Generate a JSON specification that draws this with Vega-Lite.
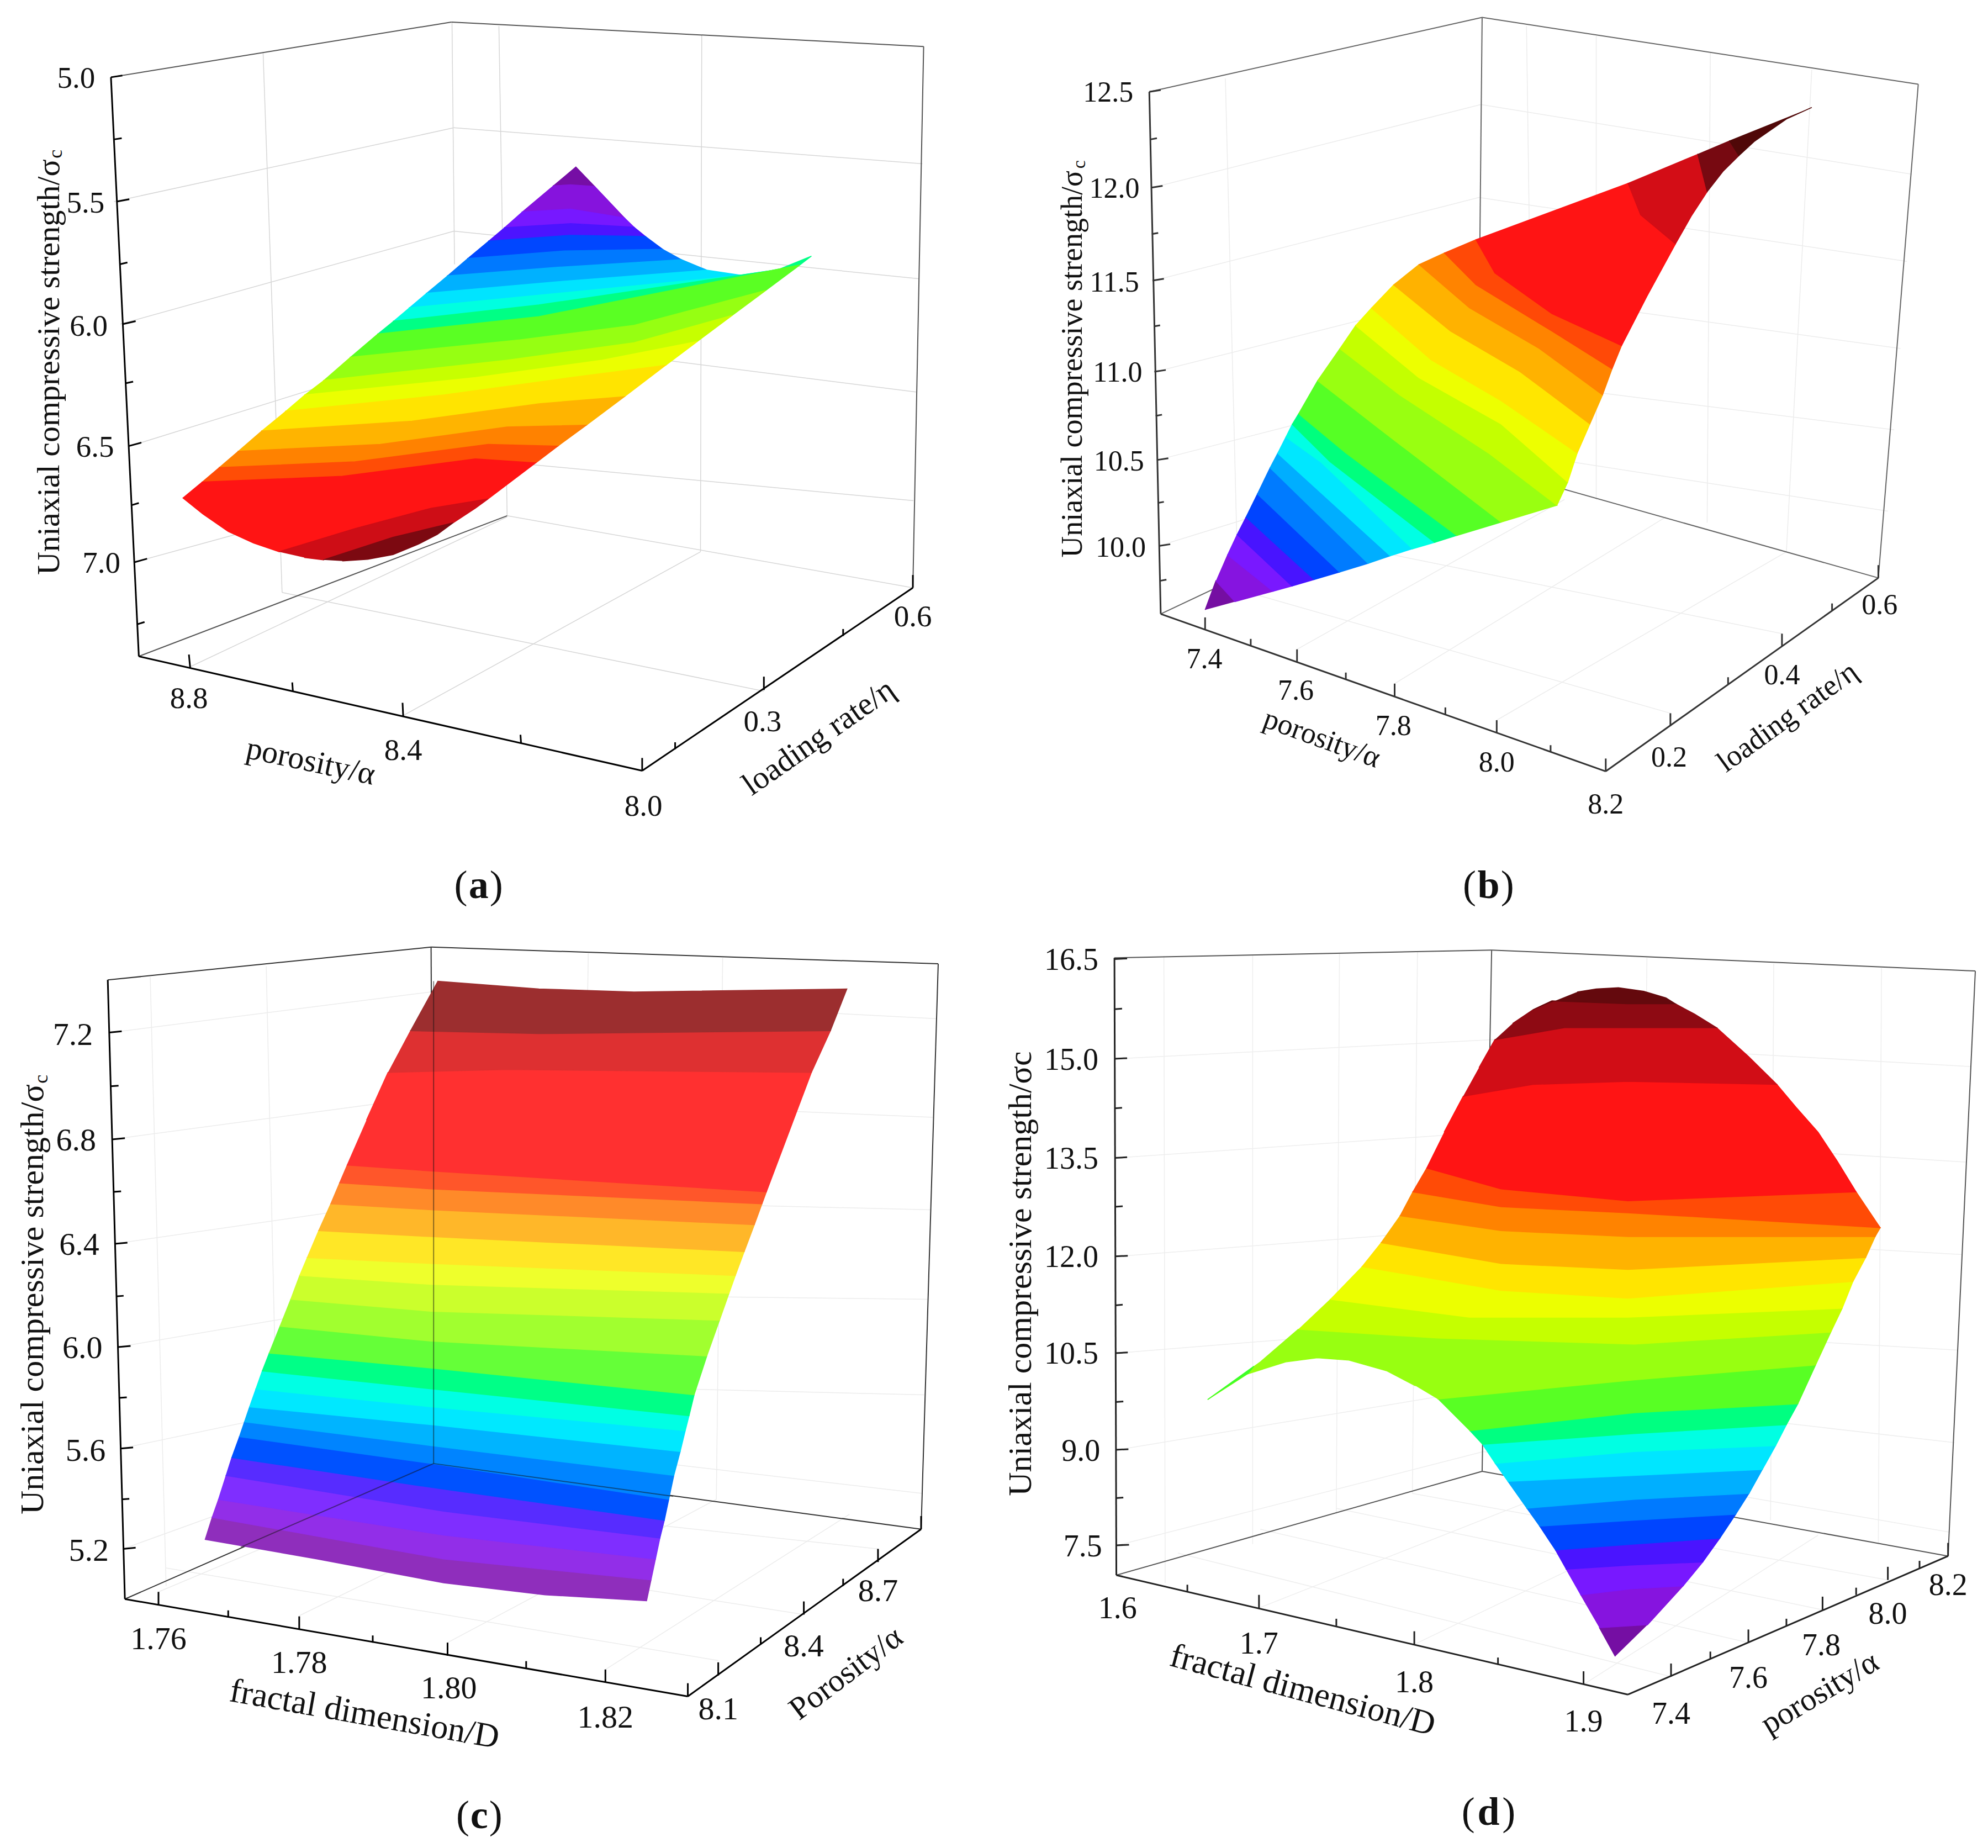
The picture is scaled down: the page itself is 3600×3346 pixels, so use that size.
{"$schema":"https://vega.github.io/schema/vega-lite/v6.json","padding":0,"spacing":0,"background":"white",
"config":{"view":{"stroke":null},"concat":{"spacing":0},"text":{"font":"Liberation Serif","align":"center","baseline":"middle","color":"#111"}},
"resolve":{"scale":{"fill":"independent","stroke":"independent"}},
"datasets":{
"surfA":[
{"z":5.44,"u":908,"v":287},{"z":5.44,"u":938,"v":321},{"z":5.44,"u":900,"v":318},{"z":5.44,"u":872,"v":320},
{"z":5.51,"u":872,"v":320},{"z":5.51,"u":900,"v":318},{"z":5.51,"u":938,"v":321},{"z":5.51,"u":985,"v":375},{"z":5.51,"u":900,"v":360},{"z":5.51,"u":823,"v":365},
{"z":5.59,"u":823,"v":365},{"z":5.59,"u":900,"v":360},{"z":5.59,"u":985,"v":375},{"z":5.59,"u":1000,"v":391},{"z":5.59,"u":900,"v":385},{"z":5.59,"u":795,"v":392},
{"z":5.66,"u":795,"v":392},{"z":5.66,"u":900,"v":385},{"z":5.66,"u":1000,"v":391},{"z":5.66,"u":1018,"v":407},{"z":5.66,"u":900,"v":405},{"z":5.66,"u":770,"v":415},
{"z":5.74,"u":770,"v":415},{"z":5.74,"u":900,"v":405},{"z":5.74,"u":1018,"v":407},{"z":5.74,"u":1045,"v":429},{"z":5.74,"u":890,"v":432},{"z":5.74,"u":737,"v":445},
{"z":5.81,"u":737,"v":445},{"z":5.81,"u":890,"v":432},{"z":5.81,"u":1045,"v":429},{"z":5.81,"u":1075,"v":447},{"z":5.81,"u":880,"v":460},{"z":5.81,"u":705,"v":475},
{"z":5.89,"u":705,"v":475},{"z":5.89,"u":880,"v":460},{"z":5.89,"u":1075,"v":447},{"z":5.89,"u":1115,"v":465},{"z":5.89,"u":880,"v":485},{"z":5.89,"u":672,"v":505},
{"z":5.96,"u":672,"v":505},{"z":5.96,"u":880,"v":485},{"z":5.96,"u":1115,"v":465},{"z":5.96,"u":1170,"v":474},{"z":5.96,"u":880,"v":505},{"z":5.96,"u":645,"v":530},
{"z":6.04,"u":645,"v":530},{"z":6.04,"u":880,"v":505},{"z":6.04,"u":1170,"v":474},{"z":6.04,"u":1228,"v":464},{"z":6.04,"u":850,"v":525},{"z":6.04,"u":620,"v":553},
{"z":6.11,"u":620,"v":553},{"z":6.11,"u":850,"v":525},{"z":6.11,"u":1228,"v":464},{"z":6.11,"u":1280,"v":441},{"z":6.11,"u":1262,"v":456},{"z":6.11,"u":850,"v":545},{"z":6.11,"u":595,"v":575},
{"z":6.19,"u":595,"v":575},{"z":6.19,"u":850,"v":545},{"z":6.19,"u":1262,"v":456},{"z":6.19,"u":1208,"v":500},{"z":6.19,"u":1000,"v":560},{"z":6.19,"u":820,"v":585},{"z":6.19,"u":552,"v":615},
{"z":6.26,"u":552,"v":615},{"z":6.26,"u":820,"v":585},{"z":6.26,"u":1000,"v":560},{"z":6.26,"u":1208,"v":500},{"z":6.26,"u":1155,"v":543},{"z":6.26,"u":1000,"v":590},{"z":6.26,"u":800,"v":620},{"z":6.26,"u":510,"v":655},
{"z":6.34,"u":510,"v":655},{"z":6.34,"u":800,"v":620},{"z":6.34,"u":1000,"v":590},{"z":6.34,"u":1155,"v":543},{"z":6.34,"u":1100,"v":588},{"z":6.34,"u":950,"v":620},{"z":6.34,"u":750,"v":650},{"z":6.34,"u":480,"v":680},
{"z":6.41,"u":480,"v":680},{"z":6.41,"u":750,"v":650},{"z":6.41,"u":950,"v":620},{"z":6.41,"u":1100,"v":588},{"z":6.41,"u":1050,"v":629},{"z":6.41,"u":900,"v":650},{"z":6.41,"u":700,"v":680},{"z":6.41,"u":450,"v":708},
{"z":6.49,"u":450,"v":708},{"z":6.49,"u":700,"v":680},{"z":6.49,"u":900,"v":650},{"z":6.49,"u":1050,"v":629},{"z":6.49,"u":985,"v":683},{"z":6.49,"u":850,"v":695},{"z":6.49,"u":650,"v":725},{"z":6.49,"u":412,"v":742},
{"z":6.56,"u":412,"v":742},{"z":6.56,"u":650,"v":725},{"z":6.56,"u":850,"v":695},{"z":6.56,"u":985,"v":683},{"z":6.56,"u":925,"v":732},{"z":6.56,"u":800,"v":735},{"z":6.56,"u":600,"v":765},{"z":6.56,"u":375,"v":777},
{"z":6.64,"u":375,"v":777},{"z":6.64,"u":600,"v":765},{"z":6.64,"u":800,"v":735},{"z":6.64,"u":925,"v":732},{"z":6.64,"u":880,"v":768},{"z":6.64,"u":770,"v":765},{"z":6.64,"u":560,"v":795},{"z":6.64,"u":345,"v":805},
{"z":6.71,"u":345,"v":805},{"z":6.71,"u":560,"v":795},{"z":6.71,"u":770,"v":765},{"z":6.71,"u":880,"v":768},{"z":6.71,"u":845,"v":797},{"z":6.71,"u":750,"v":790},{"z":6.71,"u":540,"v":820},{"z":6.71,"u":318,"v":830},
{"z":6.83,"u":318,"v":830},{"z":6.83,"u":540,"v":820},{"z":6.83,"u":750,"v":790},{"z":6.83,"u":845,"v":797},{"z":6.83,"u":770,"v":859},{"z":6.83,"u":680,"v":875},{"z":6.83,"u":560,"v":910},{"z":6.83,"u":440,"v":950},{"z":6.83,"u":400,"v":935},{"z":6.83,"u":360,"v":915},{"z":6.83,"u":320,"v":885},{"z":6.83,"u":288,"v":857},
{"z":6.94,"u":440,"v":950},{"z":6.94,"u":560,"v":910},{"z":6.94,"u":680,"v":875},{"z":6.94,"u":770,"v":859},{"z":6.94,"u":750,"v":875},{"z":6.94,"u":715,"v":900},{"z":6.94,"u":620,"v":925},{"z":6.94,"u":510,"v":964},{"z":6.94,"u":480,"v":960},
{"z":7.01,"u":510,"v":964},{"z":7.01,"u":620,"v":925},{"z":7.01,"u":715,"v":900},{"z":7.01,"u":690,"v":920},{"z":7.01,"u":660,"v":937},{"z":7.01,"u":620,"v":955},{"z":7.01,"u":580,"v":963},{"z":7.01,"u":540,"v":966}
],
"surfB":[
{"z":9.76,"u":333,"v":1050},{"z":9.76,"u":350,"v":1000},{"z":9.76,"u":380,"v":1036},
{"z":9.89,"u":350,"v":1000},{"z":9.89,"u":380,"v":1036},{"z":9.89,"u":440,"v":1018},{"z":9.89,"u":368,"v":955},
{"z":10.01,"u":368,"v":955},{"z":10.01,"u":440,"v":1018},{"z":10.01,"u":470,"v":1009},{"z":10.01,"u":383,"v":920},
{"z":10.14,"u":383,"v":920},{"z":10.14,"u":470,"v":1009},{"z":10.14,"u":505,"v":998},{"z":10.14,"u":397,"v":890},
{"z":10.26,"u":397,"v":890},{"z":10.26,"u":505,"v":998},{"z":10.26,"u":545,"v":985},{"z":10.26,"u":415,"v":850},
{"z":10.39,"u":415,"v":850},{"z":10.39,"u":545,"v":985},{"z":10.39,"u":590,"v":970},{"z":10.39,"u":435,"v":805},
{"z":10.51,"u":435,"v":805},{"z":10.51,"u":590,"v":970},{"z":10.51,"u":625,"v":957},{"z":10.51,"u":447,"v":780},
{"z":10.64,"u":447,"v":780},{"z":10.64,"u":625,"v":957},{"z":10.64,"u":660,"v":945},{"z":10.64,"u":515,"v":795},{"z":10.64,"u":460,"v":752},
{"z":10.76,"u":460,"v":752},{"z":10.76,"u":515,"v":795},{"z":10.76,"u":660,"v":945},{"z":10.76,"u":695,"v":934},{"z":10.76,"u":530,"v":795},{"z":10.76,"u":470,"v":730},
{"z":10.89,"u":470,"v":730},{"z":10.89,"u":530,"v":795},{"z":10.89,"u":695,"v":934},{"z":10.89,"u":730,"v":922},{"z":10.89,"u":555,"v":780},{"z":10.89,"u":480,"v":712},
{"z":11.01,"u":480,"v":712},{"z":11.01,"u":555,"v":780},{"z":11.01,"u":730,"v":922},{"z":11.01,"u":800,"v":899},{"z":11.01,"u":610,"v":740},{"z":11.01,"u":510,"v":655},
{"z":11.14,"u":510,"v":655},{"z":11.14,"u":610,"v":740},{"z":11.14,"u":800,"v":899},{"z":11.14,"u":888,"v":870},{"z":11.14,"u":780,"v":780},{"z":11.14,"u":640,"v":680},{"z":11.14,"u":545,"v":600},
{"z":11.26,"u":545,"v":600},{"z":11.26,"u":640,"v":680},{"z":11.26,"u":780,"v":780},{"z":11.26,"u":888,"v":870},{"z":11.26,"u":905,"v":830},{"z":11.26,"u":800,"v":730},{"z":11.26,"u":670,"v":650},{"z":11.26,"u":570,"v":560},
{"z":11.39,"u":570,"v":560},{"z":11.39,"u":670,"v":650},{"z":11.39,"u":800,"v":730},{"z":11.39,"u":905,"v":830},{"z":11.39,"u":920,"v":780},{"z":11.39,"u":800,"v":690},{"z":11.39,"u":690,"v":620},{"z":11.39,"u":595,"v":530},
{"z":11.51,"u":595,"v":530},{"z":11.51,"u":690,"v":620},{"z":11.51,"u":800,"v":690},{"z":11.51,"u":920,"v":780},{"z":11.51,"u":940,"v":730},{"z":11.51,"u":830,"v":640},{"z":11.51,"u":720,"v":570},{"z":11.51,"u":630,"v":490},
{"z":11.64,"u":630,"v":490},{"z":11.64,"u":720,"v":570},{"z":11.64,"u":830,"v":640},{"z":11.64,"u":940,"v":730},{"z":11.64,"u":960,"v":680},{"z":11.64,"u":860,"v":600},{"z":11.64,"u":750,"v":530},{"z":11.64,"u":670,"v":455},
{"z":11.76,"u":670,"v":455},{"z":11.76,"u":750,"v":530},{"z":11.76,"u":860,"v":600},{"z":11.76,"u":960,"v":680},{"z":11.76,"u":975,"v":635},{"z":11.76,"u":880,"v":570},{"z":11.76,"u":760,"v":490},{"z":11.76,"u":710,"v":435},
{"z":11.89,"u":710,"v":435},{"z":11.89,"u":760,"v":490},{"z":11.89,"u":880,"v":570},{"z":11.89,"u":975,"v":635},{"z":11.89,"u":990,"v":595},{"z":11.89,"u":880,"v":540},{"z":11.89,"u":790,"v":470},{"z":11.89,"u":760,"v":412},
{"z":12.08,"u":760,"v":412},{"z":12.08,"u":790,"v":470},{"z":12.08,"u":880,"v":540},{"z":12.08,"u":990,"v":595},{"z":12.08,"u":1030,"v":510},{"z":12.08,"u":1075,"v":420},{"z":12.08,"u":1020,"v":370},{"z":12.08,"u":1000,"v":315},
{"z":12.26,"u":1000,"v":315},{"z":12.26,"u":1020,"v":370},{"z":12.26,"u":1075,"v":420},{"z":12.26,"u":1100,"v":372},{"z":12.26,"u":1125,"v":330},{"z":12.26,"u":1110,"v":265},
{"z":12.39,"u":1110,"v":265},{"z":12.39,"u":1125,"v":330},{"z":12.39,"u":1150,"v":295},{"z":12.39,"u":1175,"v":268},{"z":12.39,"u":1160,"v":242},
{"z":12.45,"u":1160,"v":242},{"z":12.45,"u":1175,"v":268},{"z":12.45,"u":1200,"v":243},{"z":12.45,"u":1250,"v":205},{"z":12.45,"u":1290,"v":185}
],
"surfC":[
{"z":5.15,"u":323,"v":1052},{"z":5.15,"u":500,"v":1085},{"z":5.15,"u":700,"v":1125},{"z":5.15,"u":860,"v":1145},{"z":5.15,"u":1020,"v":1155},{"z":5.15,"u":1027,"v":1120},{"z":5.15,"u":700,"v":1085},{"z":5.15,"u":334,"v":1015},
{"z":5.25,"u":334,"v":1015},{"z":5.25,"u":700,"v":1085},{"z":5.25,"u":1027,"v":1120},{"z":5.25,"u":1034,"v":1085},{"z":5.25,"u":700,"v":1045},{"z":5.25,"u":344,"v":985},
{"z":5.35,"u":344,"v":985},{"z":5.35,"u":700,"v":1045},{"z":5.35,"u":1034,"v":1085},{"z":5.35,"u":1041,"v":1050},{"z":5.35,"u":700,"v":1005},{"z":5.35,"u":356,"v":945},
{"z":5.45,"u":356,"v":945},{"z":5.45,"u":700,"v":1005},{"z":5.45,"u":1041,"v":1050},{"z":5.45,"u":1048,"v":1020},{"z":5.45,"u":680,"v":965},{"z":5.45,"u":365,"v":915},
{"z":5.55,"u":365,"v":915},{"z":5.55,"u":680,"v":965},{"z":5.55,"u":1048,"v":1020},{"z":5.55,"u":1055,"v":985},{"z":5.55,"u":680,"v":925},{"z":5.55,"u":377,"v":880},
{"z":5.65,"u":377,"v":880},{"z":5.65,"u":680,"v":925},{"z":5.65,"u":1055,"v":985},{"z":5.65,"u":1063,"v":945},{"z":5.65,"u":680,"v":895},{"z":5.65,"u":385,"v":855},
{"z":5.75,"u":385,"v":855},{"z":5.75,"u":680,"v":895},{"z":5.75,"u":1063,"v":945},{"z":5.75,"u":1073,"v":905},{"z":5.75,"u":680,"v":860},{"z":5.75,"u":393,"v":830},
{"z":5.85,"u":393,"v":830},{"z":5.85,"u":680,"v":860},{"z":5.85,"u":1073,"v":905},{"z":5.85,"u":1081,"v":870},{"z":5.85,"u":680,"v":830},{"z":5.85,"u":403,"v":800},
{"z":5.95,"u":403,"v":800},{"z":5.95,"u":680,"v":830},{"z":5.95,"u":1081,"v":870},{"z":5.95,"u":1087,"v":845},{"z":5.95,"u":680,"v":800},{"z":5.95,"u":413,"v":770},
{"z":6.05,"u":413,"v":770},{"z":6.05,"u":680,"v":800},{"z":6.05,"u":1087,"v":845},{"z":6.05,"u":1095,"v":810},{"z":6.05,"u":680,"v":765},{"z":6.05,"u":424,"v":740},
{"z":6.15,"u":424,"v":740},{"z":6.15,"u":680,"v":765},{"z":6.15,"u":1095,"v":810},{"z":6.15,"u":1115,"v":745},{"z":6.15,"u":680,"v":720},{"z":6.15,"u":441,"v":695},
{"z":6.25,"u":441,"v":695},{"z":6.25,"u":680,"v":720},{"z":6.25,"u":1115,"v":745},{"z":6.25,"u":1135,"v":685},{"z":6.25,"u":680,"v":670},{"z":6.25,"u":458,"v":650},
{"z":6.35,"u":458,"v":650},{"z":6.35,"u":680,"v":670},{"z":6.35,"u":1135,"v":685},{"z":6.35,"u":1150,"v":640},{"z":6.35,"u":680,"v":625},{"z":6.35,"u":472,"v":610},
{"z":6.45,"u":472,"v":610},{"z":6.45,"u":680,"v":625},{"z":6.45,"u":1150,"v":640},{"z":6.45,"u":1160,"v":610},{"z":6.45,"u":680,"v":590},{"z":6.45,"u":484,"v":580},
{"z":6.55,"u":484,"v":580},{"z":6.55,"u":680,"v":590},{"z":6.55,"u":1160,"v":610},{"z":6.55,"u":1174,"v":570},{"z":6.55,"u":680,"v":545},{"z":6.55,"u":502,"v":535},
{"z":6.65,"u":502,"v":535},{"z":6.65,"u":680,"v":545},{"z":6.65,"u":1174,"v":570},{"z":6.65,"u":1190,"v":525},{"z":6.65,"u":680,"v":500},{"z":6.65,"u":521,"v":490},
{"z":6.75,"u":521,"v":490},{"z":6.75,"u":680,"v":500},{"z":6.75,"u":1190,"v":525},{"z":6.75,"u":1202,"v":490},{"z":6.75,"u":680,"v":465},{"z":6.75,"u":535,"v":455},
{"z":6.85,"u":535,"v":455},{"z":6.85,"u":680,"v":465},{"z":6.85,"u":1202,"v":490},{"z":6.85,"u":1209,"v":470},{"z":6.85,"u":680,"v":435},{"z":6.85,"u":547,"v":425},
{"z":7.0,"u":547,"v":425},{"z":7.0,"u":680,"v":435},{"z":7.0,"u":1209,"v":470},{"z":7.0,"u":1248,"v":360},{"z":7.0,"u":1280,"v":270},{"z":7.0,"u":800,"v":265},{"z":7.0,"u":612,"v":270},{"z":7.0,"u":578,"v":350},
{"z":7.15,"u":612,"v":270},{"z":7.15,"u":800,"v":265},{"z":7.15,"u":1280,"v":270},{"z":7.15,"u":1310,"v":200},{"z":7.15,"u":850,"v":205},{"z":7.15,"u":647,"v":200},
{"z":7.25,"u":647,"v":200},{"z":7.25,"u":850,"v":205},{"z":7.25,"u":1310,"v":200},{"z":7.25,"u":1336,"v":130},{"z":7.25,"u":1000,"v":135},{"z":7.25,"u":850,"v":130},{"z":7.25,"u":690,"v":117}
],
"surfD":[
{"z":7.4,"u":980,"v":1248},{"z":7.4,"u":955,"v":1200},{"z":7.4,"u":1031,"v":1195},
{"z":7.8,"u":955,"v":1200},{"z":7.8,"u":1031,"v":1195},{"z":7.8,"u":1087,"v":1130},{"z":7.8,"u":1005,"v":1135},{"z":7.8,"u":925,"v":1145},
{"z":8.2,"u":925,"v":1145},{"z":8.2,"u":1005,"v":1135},{"z":8.2,"u":1087,"v":1130},{"z":8.2,"u":1118,"v":1090},{"z":8.2,"u":1005,"v":1095},{"z":8.2,"u":902,"v":1102},
{"z":8.6,"u":902,"v":1102},{"z":8.6,"u":1005,"v":1095},{"z":8.6,"u":1118,"v":1090},{"z":8.6,"u":1145,"v":1050},{"z":8.6,"u":1010,"v":1060},{"z":8.6,"u":885,"v":1070},
{"z":9.0,"u":885,"v":1070},{"z":9.0,"u":1010,"v":1060},{"z":9.0,"u":1145,"v":1050},{"z":9.0,"u":1170,"v":1010},{"z":9.0,"u":1010,"v":1020},{"z":9.0,"u":860,"v":1030},
{"z":9.4,"u":860,"v":1030},{"z":9.4,"u":1010,"v":1020},{"z":9.4,"u":1170,"v":1010},{"z":9.4,"u":1191,"v":975},{"z":9.4,"u":1010,"v":985},{"z":9.4,"u":840,"v":1000},
{"z":9.8,"u":840,"v":1000},{"z":9.8,"u":1010,"v":985},{"z":9.8,"u":1191,"v":975},{"z":9.8,"u":1212,"v":935},{"z":9.8,"u":1010,"v":945},{"z":9.8,"u":810,"v":955},
{"z":10.2,"u":810,"v":955},{"z":10.2,"u":1010,"v":945},{"z":10.2,"u":1212,"v":935},{"z":10.2,"u":1233,"v":895},{"z":10.2,"u":1010,"v":905},{"z":10.2,"u":790,"v":925},
{"z":10.6,"u":790,"v":925},{"z":10.6,"u":1010,"v":905},{"z":10.6,"u":1233,"v":895},{"z":10.6,"u":1250,"v":860},{"z":10.6,"u":1010,"v":875},{"z":10.6,"u":770,"v":893},
{"z":11.0,"u":770,"v":893},{"z":11.0,"u":1010,"v":875},{"z":11.0,"u":1250,"v":860},{"z":11.0,"u":1268,"v":825},{"z":11.0,"u":1010,"v":840},{"z":11.0,"u":750,"v":870},
{"z":11.4,"u":750,"v":870},{"z":11.4,"u":1010,"v":840},{"z":11.4,"u":1268,"v":825},{"z":11.4,"u":1296,"v":760},{"z":11.4,"u":1010,"v":785},{"z":11.4,"u":700,"v":817},
{"z":11.8,"u":700,"v":817},{"z":11.8,"u":1010,"v":785},{"z":11.8,"u":1296,"v":760},{"z":11.8,"u":1320,"v":705},{"z":11.8,"u":1010,"v":725},{"z":11.8,"u":700,"v":715},{"z":11.8,"u":480,"v":700},{"z":11.8,"u":420,"v":755},{"z":11.8,"u":337,"v":818},{"z":11.8,"u":400,"v":775},{"z":11.8,"u":460,"v":755},{"z":11.8,"u":510,"v":748},{"z":11.8,"u":560,"v":752},{"z":11.8,"u":620,"v":770},{"z":11.8,"u":665,"v":795},
{"z":11.3,"u":337,"v":818},{"z":11.3,"u":410,"v":762},{"z":11.3,"u":400,"v":775},
{"z":12.2,"u":480,"v":700},{"z":12.2,"u":700,"v":715},{"z":12.2,"u":1010,"v":725},{"z":12.2,"u":1320,"v":705},{"z":12.2,"u":1338,"v":665},{"z":12.2,"u":1000,"v":680},{"z":12.2,"u":750,"v":680},{"z":12.2,"u":530,"v":650},
{"z":12.6,"u":530,"v":650},{"z":12.6,"u":750,"v":680},{"z":12.6,"u":1000,"v":680},{"z":12.6,"u":1338,"v":665},{"z":12.6,"u":1355,"v":620},{"z":12.6,"u":1000,"v":648},{"z":12.6,"u":800,"v":635},{"z":12.6,"u":580,"v":595},
{"z":13.0,"u":580,"v":595},{"z":13.0,"u":800,"v":635},{"z":13.0,"u":1000,"v":648},{"z":13.0,"u":1355,"v":620},{"z":13.0,"u":1375,"v":580},{"z":13.0,"u":1000,"v":600},{"z":13.0,"u":800,"v":590},{"z":13.0,"u":610,"v":555},
{"z":13.4,"u":610,"v":555},{"z":13.4,"u":800,"v":590},{"z":13.4,"u":1000,"v":600},{"z":13.4,"u":1375,"v":580},{"z":13.4,"u":1390,"v":545},{"z":13.4,"u":1000,"v":545},{"z":13.4,"u":800,"v":535},{"z":13.4,"u":640,"v":510},
{"z":13.8,"u":640,"v":510},{"z":13.8,"u":800,"v":535},{"z":13.8,"u":1000,"v":545},{"z":13.8,"u":1390,"v":545},{"z":13.8,"u":1398,"v":530},{"z":13.8,"u":1000,"v":505},{"z":13.8,"u":800,"v":495},{"z":13.8,"u":660,"v":470},
{"z":14.2,"u":660,"v":470},{"z":14.2,"u":800,"v":495},{"z":14.2,"u":1000,"v":505},{"z":14.2,"u":1398,"v":530},{"z":14.2,"u":1360,"v":470},{"z":14.2,"u":1000,"v":485},{"z":14.2,"u":800,"v":465},{"z":14.2,"u":682,"v":430},
{"z":14.8,"u":682,"v":430},{"z":14.8,"u":800,"v":465},{"z":14.8,"u":1000,"v":485},{"z":14.8,"u":1360,"v":470},{"z":14.8,"u":1330,"v":418},{"z":14.8,"u":1300,"v":370},{"z":14.8,"u":1265,"v":328},{"z":14.8,"u":1235,"v":290},{"z":14.8,"u":1000,"v":285},{"z":14.8,"u":850,"v":290},{"z":14.8,"u":740,"v":310},{"z":14.8,"u":710,"v":370},
{"z":15.4,"u":740,"v":310},{"z":15.4,"u":850,"v":290},{"z":15.4,"u":1000,"v":285},{"z":15.4,"u":1235,"v":290},{"z":15.4,"u":1190,"v":243},{"z":15.4,"u":1140,"v":195},{"z":15.4,"u":1000,"v":195},{"z":15.4,"u":900,"v":195},{"z":15.4,"u":790,"v":215},{"z":15.4,"u":765,"v":262},
{"z":15.7,"u":790,"v":215},{"z":15.7,"u":900,"v":195},{"z":15.7,"u":1000,"v":195},{"z":15.7,"u":1140,"v":195},{"z":15.7,"u":1105,"v":172},{"z":15.7,"u":1075,"v":155},{"z":15.7,"u":1000,"v":155},{"z":15.7,"u":880,"v":150},{"z":15.7,"u":850,"v":165},{"z":15.7,"u":818,"v":188},
{"z":15.9,"u":850,"v":165},{"z":15.9,"u":880,"v":150},{"z":15.9,"u":1000,"v":155},{"z":15.9,"u":1075,"v":155},{"z":15.9,"u":1060,"v":145},{"z":15.9,"u":1025,"v":134},{"z":15.9,"u":985,"v":128},{"z":15.9,"u":950,"v":130},{"z":15.9,"u":920,"v":135}
],
"gridA":[{"u":180,"v":347,"u2":716,"v2":220},{"u":716,"v":220,"u2":1455,"v2":282},{"u":190,"v":558,"u2":716,"v2":398},{"u":716,"v":398,"u2":1450,"v2":480},{"u":205,"v":768,"u2":760,"v2":580},{"u":760,"v":580,"u2":1445,"v2":675},{"u":212,"v":968,"u2":790,"v2":795},{"u":790,"v":795,"u2":1441,"v2":862},{"u":415,"v":90,"u2":445,"v2":1020},{"u":1107,"v":60,"u2":1105,"v2":950},{"u":787,"v":45,"u2":800,"v2":888},{"u":713,"v":38,"u2":717,"v2":455},{"u":300,"v":1148,"u2":800,"v2":890},{"u":636,"v":1232,"u2":1105,"v2":950},{"u":445,"v":1020,"u2":1205,"v2":1190},{"u":800,"v":888,"u2":1440,"v2":1012}],
"frameA":[{"u":175,"v":133,"u2":712,"v2":38},{"u":712,"v":38,"u2":1457,"v2":80},{"u":1457,"v":80,"u2":1440,"v2":1012},{"u":219,"v":1130,"u2":800,"v2":888}],
"axisA":[{"u":175,"v":133,"u2":219,"v2":1130},{"u":219,"v":1130,"u2":1013,"v2":1327},{"u":1013,"v":1327,"u2":1440,"v2":1012},{"u":175,"v":133,"u2":193,"v2":130},{"u":184,"v":347,"u2":204,"v2":343},{"u":194,"v":558,"u2":214,"v2":553},{"u":203,"v":768,"u2":223,"v2":762},{"u":212,"v":968,"u2":232,"v2":962},{"u":180,"v":240,"u2":192,"v2":238},{"u":189,"v":455,"u2":201,"v2":452},{"u":198,"v":660,"u2":210,"v2":657},{"u":207,"v":870,"u2":219,"v2":866},{"u":216,"v":1075,"u2":228,"v2":1071},{"u":300,"v":1150,"u2":298,"v2":1127},{"u":462,"v":1190,"u2":461,"v2":1175},{"u":636,"v":1233,"u2":635,"v2":1210},{"u":822,"v":1280,"u2":821,"v2":1265},{"u":1013,"v":1327,"u2":1013,"v2":1305},{"u":1065,"v":1290,"u2":1065,"v2":1278},{"u":1205,"v":1188,"u2":1205,"v2":1165},{"u":1330,"v":1095,"u2":1330,"v2":1083},{"u":1440,"v":1012,"u2":1440,"v2":990}],
"labA":[{"t":"5.0","u":120,"v":135},{"t":"5.5","u":135,"v":350},{"t":"6.0","u":140,"v":562},{"t":"6.5","u":150,"v":770},{"t":"7.0","u":160,"v":970},{"t":"8.8","u":298,"v":1203},{"t":"8.4","u":636,"v":1292},{"t":"8.0","u":1015,"v":1388},{"t":"0.6","u":1440,"v":1062},{"t":"0.3","u":1203,"v":1243}],
"gridB":[{"u":250,"v":323,"u2":768,"v2":180},{"u":768,"v":180,"u2":1448,"v2":300},{"u":252,"v":483,"u2":765,"v2":340},{"u":765,"v":340,"u2":1440,"v2":450},{"u":255,"v":640,"u2":765,"v2":500},{"u":765,"v":500,"u2":1430,"v2":600},{"u":258,"v":792,"u2":764,"v2":650},{"u":764,"v":650,"u2":1420,"v2":740},{"u":260,"v":940,"u2":763,"v2":770},{"u":763,"v":770,"u2":1410,"v2":880},{"u":365,"v":135,"u2":385,"v2":1015},{"u":840,"v":45,"u2":850,"v2":830},{"u":950,"v":62,"u2":950,"v2":860},{"u":1130,"v":90,"u2":1125,"v2":900},{"u":1290,"v":120,"u2":1250,"v2":950},{"u":478,"v":1118,"u2":900,"v2":860},{"u":632,"v":1177,"u2":1060,"v2":890},{"u":793,"v":1240,"u2":1250,"v2":950},{"u":1067,"v":1228,"u2":385,"v2":1015},{"u":1243,"v":1091,"u2":560,"v2":940}],
"frameB":[{"u":245,"v":158,"u2":770,"v2":30},{"u":770,"v":30,"u2":1458,"v2":145},{"u":1458,"v":145,"u2":1395,"v2":995},{"u":770,"v":30,"u2":763,"v2":800},{"u":762,"v":800,"u2":1395,"v2":995},{"u":263,"v":1057,"u2":762,"v2":800}],
"axisB":[{"u":245,"v":158,"u2":263,"v2":1057},{"u":263,"v":1057,"u2":965,"v2":1328},{"u":965,"v":1328,"u2":1395,"v2":995},{"u":245,"v":158,"u2":263,"v2":155},{"u":248,"v":323,"u2":266,"v2":320},{"u":250,"v":483,"u2":268,"v2":480},{"u":253,"v":640,"u2":271,"v2":637},{"u":257,"v":792,"u2":275,"v2":789},{"u":260,"v":940,"u2":278,"v2":937},{"u":247,"v":240,"u2":257,"v2":238},{"u":249,"v":403,"u2":259,"v2":401},{"u":252,"v":562,"u2":262,"v2":560},{"u":255,"v":716,"u2":265,"v2":714},{"u":258,"v":866,"u2":268,"v2":864},{"u":262,"v":1000,"u2":272,"v2":998},{"u":333,"v":1085,"u2":333,"v2":1063},{"u":405,"v":1112,"u2":405,"v2":1100},{"u":478,"v":1140,"u2":478,"v2":1118},{"u":555,"v":1170,"u2":555,"v2":1158},{"u":632,"v":1199,"u2":632,"v2":1177},{"u":712,"v":1230,"u2":712,"v2":1218},{"u":793,"v":1262,"u2":793,"v2":1240},{"u":878,"v":1295,"u2":878,"v2":1283},{"u":965,"v":1328,"u2":965,"v2":1306},{"u":1067,"v":1250,"u2":1067,"v2":1228},{"u":1158,"v":1178,"u2":1158,"v2":1166},{"u":1243,"v":1113,"u2":1243,"v2":1091},{"u":1322,"v":1051,"u2":1322,"v2":1039},{"u":1395,"v":995,"u2":1395,"v2":973}],
"labB":[{"t":"12.5","u":180,"v":160},{"t":"12.0","u":190,"v":325},{"t":"11.5","u":190,"v":487},{"t":"11.0","u":195,"v":642},{"t":"10.5","u":197,"v":795},{"t":"10.0","u":200,"v":943},{"t":"7.4","u":332,"v":1135},{"t":"7.6","u":476,"v":1190},{"t":"7.8","u":630,"v":1250},{"t":"8.0","u":793,"v":1313},{"t":"8.2","u":965,"v":1385},{"t":"0.2","u":1065,"v":1305},{"t":"0.4","u":1243,"v":1163},{"t":"0.6","u":1397,"v":1042}],
"gridC":[{"u":175,"v":203,"u2":680,"v2":135},{"u":680,"v":135,"u2":1478,"v2":180},{"u":177,"v":382,"u2":682,"v2":310},{"u":682,"v":310,"u2":1472,"v2":345},{"u":180,"v":557,"u2":682,"v2":480},{"u":682,"v":480,"u2":1468,"v2":500},{"u":185,"v":730,"u2":683,"v2":640},{"u":683,"v":640,"u2":1463,"v2":650},{"u":190,"v":900,"u2":683,"v2":790},{"u":683,"v":790,"u2":1458,"v2":810},{"u":194,"v":1068,"u2":684,"v2":880},{"u":684,"v":880,"u2":1455,"v2":975},{"u":237,"v":110,"u2":262,"v2":1130},{"u":420,"v":92,"u2":440,"v2":1040},{"u":928,"v":70,"u2":915,"v2":945},{"u":1140,"v":78,"u2":1130,"v2":985},{"u":250,"v":1140,"u2":720,"v2":930},{"u":472,"v":1180,"u2":915,"v2":950},{"u":706,"v":1225,"u2":1130,"v2":985},{"u":955,"v":1270,"u2":1340,"v2":1010},{"u":1268,"v":1178,"u2":440,"v2":1040},{"u":1385,"v":1068,"u2":570,"v2":975},{"u":1133,"v":1255,"u2":262,"v2":1100}],
"frameC":[{"u":170,"v":115,"u2":680,"v2":60},{"u":680,"v":60,"u2":1480,"v2":88},{"u":1480,"v":88,"u2":1453,"v2":1035},{"u":680,"v":60,"u2":684,"v2":925},{"u":684,"v":925,"u2":1453,"v2":1035},{"u":197,"v":1152,"u2":684,"v2":925}],
"thruC":[{"u":684,"v":117,"u2":684,"v2":925},{"u":380,"v":1065,"u2":684,"v2":925},{"u":684,"v":925,"u2":1062,"v2":980}],
"axisC":[{"u":170,"v":115,"u2":197,"v2":1152},{"u":197,"v":1152,"u2":1085,"v2":1315},{"u":1085,"v":1315,"u2":1453,"v2":1035},{"u":172,"v":203,"u2":192,"v2":201},{"u":177,"v":382,"u2":197,"v2":380},{"u":181,"v":557,"u2":201,"v2":555},{"u":186,"v":730,"u2":206,"v2":728},{"u":190,"v":900,"u2":210,"v2":898},{"u":194,"v":1068,"u2":214,"v2":1066},{"u":175,"v":293,"u2":187,"v2":292},{"u":179,"v":470,"u2":191,"v2":469},{"u":183,"v":645,"u2":195,"v2":644},{"u":188,"v":815,"u2":200,"v2":814},{"u":192,"v":985,"u2":204,"v2":984},{"u":250,"v":1162,"u2":250,"v2":1140},{"u":360,"v":1183,"u2":360,"v2":1171},{"u":472,"v":1203,"u2":472,"v2":1181},{"u":588,"v":1225,"u2":588,"v2":1213},{"u":706,"v":1247,"u2":706,"v2":1225},{"u":830,"v":1268,"u2":830,"v2":1256},{"u":955,"v":1292,"u2":955,"v2":1270},{"u":1085,"v":1315,"u2":1085,"v2":1293},{"u":1133,"v":1280,"u2":1133,"v2":1258},{"u":1200,"v":1228,"u2":1200,"v2":1216},{"u":1268,"v":1178,"u2":1268,"v2":1156},{"u":1330,"v":1130,"u2":1330,"v2":1118},{"u":1385,"v":1090,"u2":1385,"v2":1068},{"u":1453,"v":1035,"u2":1453,"v2":1013}],
"labC":[{"t":"7.2","u":115,"v":208},{"t":"6.8","u":120,"v":385},{"t":"6.4","u":125,"v":560},{"t":"6.0","u":130,"v":733},{"t":"5.6","u":135,"v":905},{"t":"5.2","u":140,"v":1072},{"t":"1.76","u":250,"v":1220},{"t":"1.78","u":472,"v":1260},{"t":"1.80","u":708,"v":1303},{"t":"1.82","u":955,"v":1352},{"t":"8.1","u":1133,"v":1338},{"t":"8.4","u":1268,"v":1232},{"t":"8.7","u":1385,"v":1140}],
"gridD":[{"u":195,"v":247,"u2":785,"v2":215},{"u":785,"v":215,"u2":1540,"v2":260},{"u":195,"v":413,"u2":780,"v2":370},{"u":780,"v":370,"u2":1533,"v2":420},{"u":195,"v":578,"u2":778,"v2":530},{"u":778,"v":530,"u2":1527,"v2":575},{"u":195,"v":740,"u2":778,"v2":690},{"u":778,"v":690,"u2":1520,"v2":735},{"u":195,"v":902,"u2":775,"v2":800},{"u":775,"v":800,"u2":1515,"v2":890},{"u":195,"v":1062,"u2":772,"v2":905},{"u":772,"v":905,"u2":1508,"v2":1040},{"u":268,"v":75,"u2":270,"v2":1125},{"u":408,"v":72,"u2":408,"v2":1060},{"u":545,"v":70,"u2":540,"v2":1010},{"u":668,"v":68,"u2":660,"v2":975},{"u":1030,"v":78,"u2":1020,"v2":985},{"u":1230,"v":88,"u2":1225,"v2":1020},{"u":1400,"v":95,"u2":1395,"v2":1060},{"u":418,"v":1167,"u2":900,"v2":965},{"u":663,"v":1228,"u2":1100,"v2":1005},{"u":930,"v":1295,"u2":1300,"v2":1045},{"u":1068,"v":1282,"u2":290,"v2":1075},{"u":1190,"v":1225,"u2":420,"v2":1035},{"u":1307,"v":1170,"u2":540,"v2":1000},{"u":1410,"v":1120,"u2":660,"v2":975}],
"frameD":[{"u":190,"v":78,"u2":785,"v2":65},{"u":785,"v":65,"u2":1548,"v2":100},{"u":1548,"v":100,"u2":1505,"v2":1080},{"u":785,"v":65,"u2":770,"v2":938},{"u":770,"v":938,"u2":1505,"v2":1080},{"u":193,"v":1112,"u2":770,"v2":938}],
"axisD":[{"u":190,"v":78,"u2":193,"v2":1112},{"u":193,"v":1112,"u2":1000,"v2":1312},{"u":1000,"v":1312,"u2":1505,"v2":1080},{"u":190,"v":80,"u2":210,"v2":79},{"u":190,"v":247,"u2":210,"v2":246},{"u":190,"v":413,"u2":210,"v2":412},{"u":191,"v":578,"u2":211,"v2":577},{"u":191,"v":740,"u2":211,"v2":739},{"u":192,"v":902,"u2":212,"v2":901},{"u":193,"v":1062,"u2":213,"v2":1061},{"u":190,"v":164,"u2":202,"v2":163},{"u":190,"v":330,"u2":202,"v2":329},{"u":191,"v":495,"u2":203,"v2":494},{"u":191,"v":660,"u2":203,"v2":659},{"u":192,"v":822,"u2":204,"v2":821},{"u":192,"v":983,"u2":204,"v2":982},{"u":305,"v":1140,"u2":305,"v2":1128},{"u":418,"v":1167,"u2":418,"v2":1145},{"u":540,"v":1197,"u2":540,"v2":1185},{"u":663,"v":1228,"u2":663,"v2":1206},{"u":795,"v":1262,"u2":795,"v2":1250},{"u":930,"v":1295,"u2":930,"v2":1273},{"u":1068,"v":1282,"u2":1068,"v2":1260},{"u":1130,"v":1252,"u2":1130,"v2":1240},{"u":1190,"v":1225,"u2":1190,"v2":1203},{"u":1250,"v":1197,"u2":1250,"v2":1185},{"u":1307,"v":1170,"u2":1307,"v2":1148},{"u":1360,"v":1145,"u2":1360,"v2":1133},{"u":1410,"v":1120,"u2":1410,"v2":1098},{"u":1460,"v":1100,"u2":1460,"v2":1088},{"u":1505,"v":1080,"u2":1505,"v2":1058}],
"labD":[{"t":"16.5","u":122,"v":82},{"t":"15.0","u":122,"v":250},{"t":"13.5","u":122,"v":415},{"t":"12.0","u":122,"v":580},{"t":"10.5","u":122,"v":742},{"t":"9.0","u":137,"v":905},{"t":"7.5","u":140,"v":1065},{"t":"1.6","u":195,"v":1168},{"t":"1.7","u":418,"v":1228},{"t":"1.8","u":663,"v":1292},{"t":"1.9","u":930,"v":1358},{"t":"7.4","u":1068,"v":1345},{"t":"7.6","u":1190,"v":1285},{"t":"7.8","u":1305,"v":1230},{"t":"8.0","u":1410,"v":1178},{"t":"8.2","u":1505,"v":1130}]
},
"vconcat":[
{"resolve":{"scale":{"fill":"independent","stroke":"independent"}},"hconcat":[
{"width":1800,"height":1650,
"encoding":{"x":{"field":"u","type":"quantitative","axis":null,"scale":{"domain":[0,1568],"nice":false,"zero":false}},"y":{"field":"v","type":"quantitative","axis":null,"scale":{"domain":[1569,0],"nice":false,"zero":false}}},
"layer":[
{"data":{"name":"gridA"},"mark":{"type":"rule","color":"#d6d6d6","strokeWidth":1.5},"encoding":{"x2":{"field":"u2"},"y2":{"field":"v2"}}},
{"data":{"name":"frameA"},"mark":{"type":"rule","color":"#555555","strokeWidth":2},"encoding":{"x2":{"field":"u2"},"y2":{"field":"v2"}}},
{"data":{"name":"surfA"},"mark":{"type":"line","order":false,"filled":true,"strokeWidth":1.5},"encoding":{"detail":{"field":"z"},"fill":{"field":"z","type":"quantitative","legend":null,"scale":{"domain":[5.4,5.55,5.7,5.85,6.0,6.15,6.3,6.45,6.6,6.75,6.9,7.05],"range":["#6a1088","#8a1cff","#1e14ff","#0090ff","#00ffff","#00ff30","#b0ff10","#ffff00","#ff9a10","#ff1414","#ff1414","#500808"]}},"stroke":{"field":"z","type":"quantitative","legend":null,"scale":{"domain":[5.4,5.55,5.7,5.85,6.0,6.15,6.3,6.45,6.6,6.75,6.9,7.05],"range":["#6a1088","#8a1cff","#1e14ff","#0090ff","#00ffff","#00ff30","#b0ff10","#ffff00","#ff9a10","#ff1414","#ff1414","#500808"]}}}},
{"data":{"name":"axisA"},"mark":{"type":"rule","color":"#000000","strokeWidth":3},"encoding":{"x2":{"field":"u2"},"y2":{"field":"v2"}}},
{"data":{"name":"labA"},"mark":{"type":"text","fontSize":55},"encoding":{"text":{"field":"t","type":"nominal"}}},
{"data":{"values":[{"t":"Uniaxial compressive strength/σ","u":78,"v":632}]},"mark":{"type":"text","fontSize":58,"angle":270},"encoding":{"text":{"field":"t","type":"nominal"}}},
{"data":{"values":[{"t":"c","u":88,"v":265}]},"mark":{"type":"text","fontSize":36,"angle":270},"encoding":{"text":{"field":"t","type":"nominal"}}},
{"data":{"values":[{"t":"porosity/α","u":490,"v":1312}]},"mark":{"type":"text","fontSize":58,"angle":12},"encoding":{"text":{"field":"t","type":"nominal"}}},
{"data":{"values":[{"t":"loading rate/η","u":1292,"v":1270}]},"mark":{"type":"text","fontSize":58,"angle":325},"encoding":{"text":{"field":"t","type":"nominal"}}},
{"data":{"values":[{"t":"(","u":727,"v":1525},{"t":")","u":783,"v":1525}]},"mark":{"type":"text","fontSize":72},"encoding":{"text":{"field":"t","type":"nominal"}}},
{"data":{"values":[{"t":"a","u":755,"v":1525}]},"mark":{"type":"text","fontSize":72,"fontWeight":"bold"},"encoding":{"text":{"field":"t","type":"nominal"}}}
]},
{"width":1800,"height":1650,
"encoding":{"x":{"field":"u","type":"quantitative","axis":null,"scale":{"domain":[0,1568],"nice":false,"zero":false}},"y":{"field":"v","type":"quantitative","axis":null,"scale":{"domain":[1569,0],"nice":false,"zero":false}}},
"layer":[
{"data":{"name":"gridB"},"mark":{"type":"rule","color":"#ececec","strokeWidth":1.5},"encoding":{"x2":{"field":"u2"},"y2":{"field":"v2"}}},
{"data":{"name":"frameB"},"mark":{"type":"rule","color":"#666666","strokeWidth":2},"encoding":{"x2":{"field":"u2"},"y2":{"field":"v2"}}},
{"data":{"name":"surfB"},"mark":{"type":"line","order":false,"filled":true,"strokeWidth":1.5},"encoding":{"detail":{"field":"z"},"fill":{"field":"z","type":"quantitative","legend":null,"scale":{"domain":[9.7,9.95,10.2,10.45,10.7,10.95,11.2,11.45,11.7,11.95,12.2,12.45],"range":["#6a1088","#8a1cff","#1e14ff","#0090ff","#00ffff","#00ff30","#b0ff10","#ffff00","#ff9a10","#ff1414","#ff1414","#500808"]}},"stroke":{"field":"z","type":"quantitative","legend":null,"scale":{"domain":[9.7,9.95,10.2,10.45,10.7,10.95,11.2,11.45,11.7,11.95,12.2,12.45],"range":["#6a1088","#8a1cff","#1e14ff","#0090ff","#00ffff","#00ff30","#b0ff10","#ffff00","#ff9a10","#ff1414","#ff1414","#500808"]}}}},
{"data":{"name":"axisB"},"mark":{"type":"rule","color":"#333333","strokeWidth":3},"encoding":{"x2":{"field":"u2"},"y2":{"field":"v2"}}},
{"data":{"name":"labB"},"mark":{"type":"text","fontSize":52},"encoding":{"text":{"field":"t","type":"nominal"}}},
{"data":{"values":[{"t":"Uniaxial compressive strength/σ","u":125,"v":627}]},"mark":{"type":"text","fontSize":54,"angle":270},"encoding":{"text":{"field":"t","type":"nominal"}}},
{"data":{"values":[{"t":"c","u":135,"v":283}]},"mark":{"type":"text","fontSize":34,"angle":270},"encoding":{"text":{"field":"t","type":"nominal"}}},
{"data":{"values":[{"t":"porosity/α","u":517,"v":1272}]},"mark":{"type":"text","fontSize":54,"angle":20},"encoding":{"text":{"field":"t","type":"nominal"}}},
{"data":{"values":[{"t":"loading rate/η","u":1252,"v":1235}]},"mark":{"type":"text","fontSize":54,"angle":324},"encoding":{"text":{"field":"t","type":"nominal"}}},
{"data":{"values":[{"t":"(","u":750,"v":1525},{"t":")","u":810,"v":1525}]},"mark":{"type":"text","fontSize":72},"encoding":{"text":{"field":"t","type":"nominal"}}},
{"data":{"values":[{"t":"b","u":780,"v":1525}]},"mark":{"type":"text","fontSize":72,"fontWeight":"bold"},"encoding":{"text":{"field":"t","type":"nominal"}}}
]}
]},
{"resolve":{"scale":{"fill":"independent","stroke":"independent"}},"hconcat":[
{"width":1800,"height":1696,
"encoding":{"x":{"field":"u","type":"quantitative","axis":null,"scale":{"domain":[0,1568],"nice":false,"zero":false}},"y":{"field":"v","type":"quantitative","axis":null,"scale":{"domain":[1569,0],"nice":false,"zero":false}}},
"layer":[
{"data":{"name":"gridC"},"mark":{"type":"rule","color":"#ececec","strokeWidth":1.5},"encoding":{"x2":{"field":"u2"},"y2":{"field":"v2"}}},
{"data":{"name":"frameC"},"mark":{"type":"rule","color":"#333333","strokeWidth":2},"encoding":{"x2":{"field":"u2"},"y2":{"field":"v2"}}},
{"data":{"name":"surfC"},"mark":{"type":"line","order":false,"filled":true,"strokeWidth":1.5},"encoding":{"detail":{"field":"z"},"fill":{"field":"z","type":"quantitative","legend":null,"scale":{"domain":[5.1,5.3,5.5,5.7,5.9,6.1,6.3,6.5,6.7,6.9,7.1,7.3],"range":["#8a30a8","#8f30ff","#3a2cff","#2a98ff","#30ffff","#30ff40","#b8ff30","#ffff30","#ffa030","#ff3030","#ff3030","#7c2c2c"]}},"stroke":{"field":"z","type":"quantitative","legend":null,"scale":{"domain":[5.1,5.3,5.5,5.7,5.9,6.1,6.3,6.5,6.7,6.9,7.1,7.3],"range":["#8a30a8","#8f30ff","#3a2cff","#2a98ff","#30ffff","#30ff40","#b8ff30","#ffff30","#ffa030","#ff3030","#ff3030","#7c2c2c"]}}}},
{"data":{"name":"thruC"},"mark":{"type":"rule","color":"#111111","opacity":0.5,"strokeWidth":2},"encoding":{"x2":{"field":"u2"},"y2":{"field":"v2"}}},
{"data":{"name":"axisC"},"mark":{"type":"rule","color":"#000000","strokeWidth":3},"encoding":{"x2":{"field":"u2"},"y2":{"field":"v2"}}},
{"data":{"name":"labC"},"mark":{"type":"text","fontSize":58},"encoding":{"text":{"field":"t","type":"nominal"}}},
{"data":{"values":[{"t":"Uniaxial compressive strength/σ","u":52,"v":650}]},"mark":{"type":"text","fontSize":60,"angle":270},"encoding":{"text":{"field":"t","type":"nominal"}}},
{"data":{"values":[{"t":"c","u":65,"v":281}]},"mark":{"type":"text","fontSize":36,"angle":270},"encoding":{"text":{"field":"t","type":"nominal"}}},
{"data":{"values":[{"t":"fractal dimension/D","u":575,"v":1345}]},"mark":{"type":"text","fontSize":62,"angle":10},"encoding":{"text":{"field":"t","type":"nominal"}}},
{"data":{"values":[{"t":"Porosity/α","u":1335,"v":1277}]},"mark":{"type":"text","fontSize":58,"angle":323},"encoding":{"text":{"field":"t","type":"nominal"}}},
{"data":{"values":[{"t":"(","u":730,"v":1515},{"t":")","u":782,"v":1515}]},"mark":{"type":"text","fontSize":72},"encoding":{"text":{"field":"t","type":"nominal"}}},
{"data":{"values":[{"t":"c","u":756,"v":1515}]},"mark":{"type":"text","fontSize":72,"fontWeight":"bold"},"encoding":{"text":{"field":"t","type":"nominal"}}}
]},
{"width":1800,"height":1696,
"encoding":{"x":{"field":"u","type":"quantitative","axis":null,"scale":{"domain":[0,1568],"nice":false,"zero":false}},"y":{"field":"v","type":"quantitative","axis":null,"scale":{"domain":[1569,0],"nice":false,"zero":false}}},
"layer":[
{"data":{"name":"gridD"},"mark":{"type":"rule","color":"#eeeeee","strokeWidth":1.5},"encoding":{"x2":{"field":"u2"},"y2":{"field":"v2"}}},
{"data":{"name":"frameD"},"mark":{"type":"rule","color":"#555555","strokeWidth":2},"encoding":{"x2":{"field":"u2"},"y2":{"field":"v2"}}},
{"data":{"name":"surfD"},"mark":{"type":"line","order":false,"filled":true,"strokeWidth":1.5},"encoding":{"detail":{"field":"z"},"fill":{"field":"z","type":"quantitative","legend":null,"scale":{"domain":[7.2,8,8.8,9.6,10.4,11.2,12,12.8,13.6,14.4,15.2,16],"range":["#6a1088","#8a1cff","#1e14ff","#0090ff","#00ffff","#00ff30","#b0ff10","#ffff00","#ff9a10","#ff1414","#ff1414","#500808"]}},"stroke":{"field":"z","type":"quantitative","legend":null,"scale":{"domain":[7.2,8,8.8,9.6,10.4,11.2,12,12.8,13.6,14.4,15.2,16],"range":["#6a1088","#8a1cff","#1e14ff","#0090ff","#00ffff","#00ff30","#b0ff10","#ffff00","#ff9a10","#ff1414","#ff1414","#500808"]}}}},
{"data":{"name":"axisD"},"mark":{"type":"rule","color":"#222222","strokeWidth":3},"encoding":{"x2":{"field":"u2"},"y2":{"field":"v2"}}},
{"data":{"name":"labD"},"mark":{"type":"text","fontSize":56},"encoding":{"text":{"field":"t","type":"nominal"}}},
{"data":{"values":[{"t":"Uniaxial compressive strength/σc","u":43,"v":607}]},"mark":{"type":"text","fontSize":60,"angle":270},"encoding":{"text":{"field":"t","type":"nominal"}}},
{"data":{"values":[{"t":"fractal dimension/D","u":487,"v":1305}]},"mark":{"type":"text","fontSize":62,"angle":15},"encoding":{"text":{"field":"t","type":"nominal"}}},
{"data":{"values":[{"t":"porosity/α","u":1303,"v":1310}]},"mark":{"type":"text","fontSize":58,"angle":329},"encoding":{"text":{"field":"t","type":"nominal"}}},
{"data":{"values":[{"t":"(","u":748,"v":1510},{"t":")","u":812,"v":1510}]},"mark":{"type":"text","fontSize":72},"encoding":{"text":{"field":"t","type":"nominal"}}},
{"data":{"values":[{"t":"d","u":780,"v":1510}]},"mark":{"type":"text","fontSize":72,"fontWeight":"bold"},"encoding":{"text":{"field":"t","type":"nominal"}}}
]}
]}
]}
